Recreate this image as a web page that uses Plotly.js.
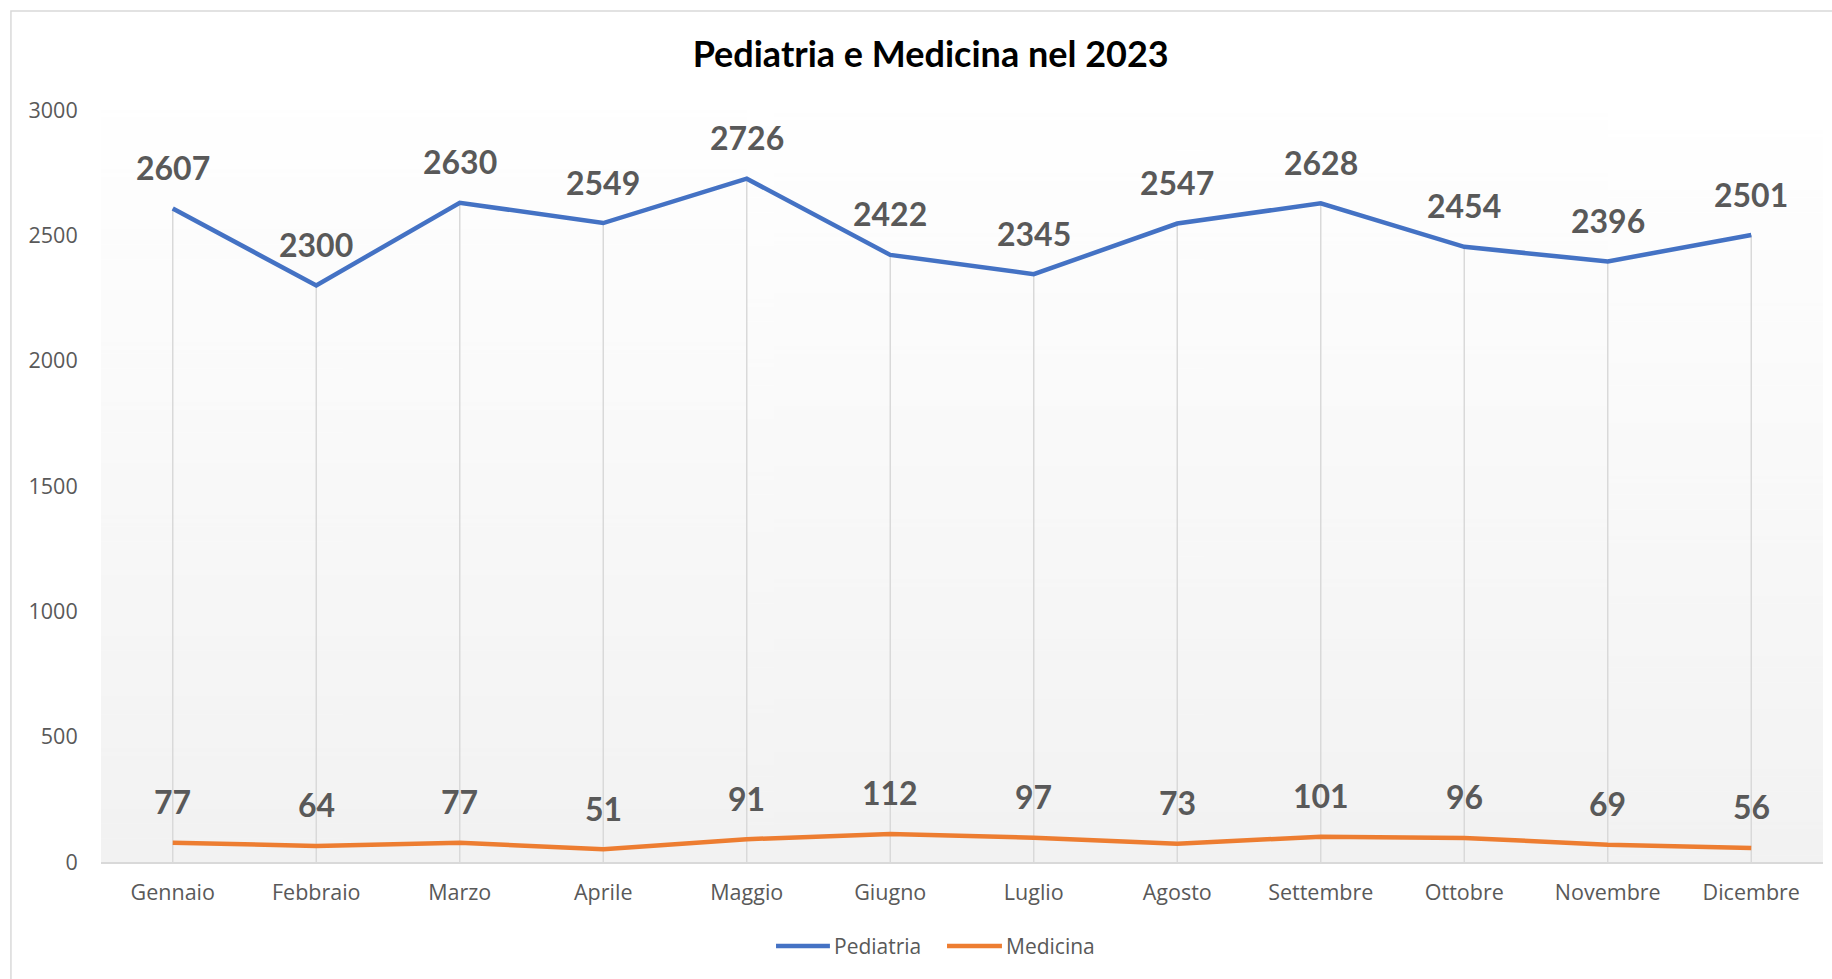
<!DOCTYPE html>
<html>
<head>
<meta charset="utf-8">
<script src="https://cdn.plot.ly/plotly-3.0.1.min.js"></script>
<style>html,body{margin:0;padding:0;background:#fff;}#chart{width:1832px;height:979px;}</style>
</head>
<body>
<div id="chart"></div>
<script>
const months = ["Gennaio","Febbraio","Marzo","Aprile","Maggio","Giugno","Luglio","Agosto","Settembre","Ottobre","Novembre","Dicembre"];
const pediatria = [2607, 2300, 2630, 2549, 2726, 2422, 2345, 2547, 2628, 2454, 2396, 2501];
const medicina = [77, 64, 77, 51, 91, 112, 97, 73, 101, 96, 69, 56];
const yTicks = [0, 500, 1000, 1500, 2000, 2500, 3000];
const seriesNames = ["Pediatria", "Medicina"];
const seriesColors = ["#4472C4", "#ED7D31"];

// gradient background for plot area
const cv = document.createElement('canvas');
cv.width = 4; cv.height = 400;
const ctx = cv.getContext('2d');
const g = ctx.createLinearGradient(0, 0, 0, 400);
g.addColorStop(0, '#ffffff');
g.addColorStop(1, '#f2f2f2');
ctx.fillStyle = g; ctx.fillRect(0, 0, 4, 400);
const bg = cv.toDataURL('image/png');

// drop lines from Pediatria points to axis
const dropX = [], dropY = [];
months.forEach((m, i) => { dropX.push(m, m, null); dropY.push(0, pediatria[i], null); });

const LABFONT = 'Lato, "Open Sans", sans-serif';
const TXTFONT = '"Open Sans", Lato, sans-serif';

const traces = [
  {x: dropX, y: dropY, mode: 'lines', line: {color: '#d9d9d9', width: 1.5}, showlegend: false, hoverinfo: 'skip'},
  {x: months, y: pediatria, name: seriesNames[0], mode: 'lines', line: {color: seriesColors[0], width: 4.5}, showlegend: false},
  {x: months, y: medicina, name: seriesNames[1], mode: 'lines', line: {color: seriesColors[1], width: 4.5}, showlegend: false}
];

const annotations = [];
[pediatria, medicina].forEach(series => {
  series.forEach((v, i) => {
    annotations.push({x: months[i], y: v, xref: 'x', yref: 'y', text: String(v), showarrow: false,
      yanchor: 'middle', yshift: 41, font: {family: LABFONT, size: 32, color: '#595959', weight: 'bold'}});
  });
});

// custom legend (longer line samples like the original)
const legendY = -0.1117;
const legendPos = [{l0: 0.3920, l1: 0.4233, t: 0.4245}, {l0: 0.4913, l1: 0.5232, t: 0.5243}];
const shapes = [{type: 'rect', xref: 'paper', yref: 'paper', x0: -0.0523, x1: 1.2, y0: -0.4, y1: 1.1316,
    line: {color: '#d9d9d9', width: 1.5}, fillcolor: 'rgba(0,0,0,0)', layer: 'below'}];
seriesNames.forEach((n, k) => {
  shapes.push({type: 'line', xref: 'paper', yref: 'paper', x0: legendPos[k].l0, x1: legendPos[k].l1,
    y0: legendY, y1: legendY, line: {color: seriesColors[k], width: 4.5}});
  annotations.push({xref: 'paper', yref: 'paper', x: legendPos[k].t, y: legendY, xanchor: 'left', yanchor: 'middle',
    text: n, showarrow: false, font: {family: TXTFONT, size: 21, color: '#595959'}});
});

const layout = {
  width: 1832, height: 979,
  margin: {l: 101, r: 9, t: 110, b: 117},
  paper_bgcolor: '#ffffff',
  plot_bgcolor: 'rgba(0,0,0,0)',
  font: {family: TXTFONT, color: '#595959', size: 21},
  title: {text: '<b>Pediatria e Medicina nel 2023</b>', font: {family: LABFONT, size: 36, color: '#000000'},
    xref: 'container', x: 0.508, xanchor: 'center', yref: 'container', y: 0.944, yanchor: 'middle'},
  xaxis: {type: 'category', range: [-0.5, 11.5], showgrid: false, zeroline: false,
    showline: true, linecolor: '#d9d9d9', linewidth: 1.5,
    ticks: 'outside', ticklen: 11, tickcolor: 'rgba(0,0,0,0)',
    tickfont: {family: TXTFONT, size: 21.5, color: '#595959'}},
  yaxis: {range: [0, 3000], tickvals: yTicks, showgrid: false, zeroline: false, showline: false,
    ticks: 'outside', ticklen: 18, tickcolor: 'rgba(0,0,0,0)',
    tickfont: {family: TXTFONT, size: 21.5, color: '#595959'}},
  showlegend: false,
  images: [{source: bg, xref: 'paper', yref: 'paper', x: 0, y: 1, sizex: 1, sizey: 1,
    sizing: 'stretch', xanchor: 'left', yanchor: 'top', layer: 'below'}],
  shapes: shapes,
  annotations: annotations
};

Plotly.newPlot('chart', traces, layout, {displayModeBar: false, staticPlot: true});
</script>
</body>
</html>
